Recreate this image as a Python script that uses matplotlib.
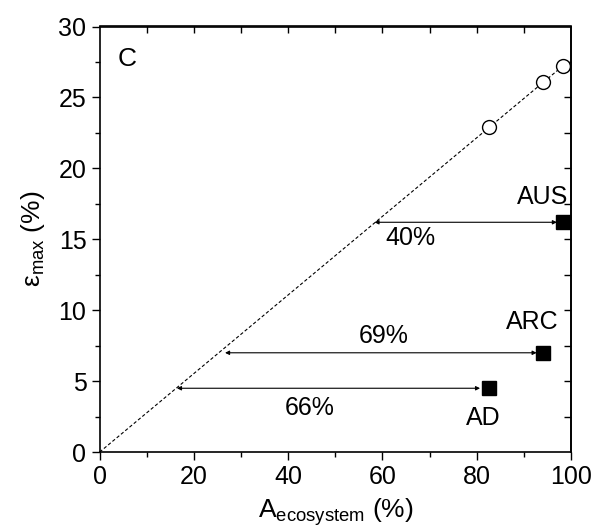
import matplotlib
matplotlib.use("Agg")
import matplotlib.pyplot as plt
import numpy as np

plt.rcParams["font.family"] = ["Liberation Sans", "DejaVu Sans"]
plt.rcParams["mathtext.fontset"] = "custom"
plt.rcParams["mathtext.rm"] = "Liberation Sans"
plt.rcParams["mathtext.it"] = "Liberation Sans:italic"

# potential (open circles) and measured (filled squares) values
sites = ["AD", "ARC", "AUS"]
a_eco = [82.5, 94.0, 98.2]
eps_potential = [22.9, 26.1, 27.2]
eps_measured = [4.5, 7.0, 16.2]
gap_start = [16.4, 26.6, 58.3]
gap_end = [80.7, 92.7, 97.0]
gap_labels = ["66%", "69%", "40%"]
gap_label_pos = [(44.5, 3.1), (60.3, 8.2), (66.0, 15.1)]
site_label_pos = [(81.3, 2.4), (91.7, 9.2), (94.0, 18.0)]
line_slope = 0.277

fig = plt.figure(figsize=(5.93, 5.30), dpi=100)
ax = fig.add_axes([0.168, 0.147, 0.795, 0.803])

xl = np.array([0, 98.2])
ax.plot(xl, line_slope * xl, color="black", lw=0.8, dashes=(3, 2))
ax.plot(a_eco, eps_potential, "o", ms=10, mfc="white", mec="black", mew=1)
ax.plot(a_eco, eps_measured, "s", ms=9.5, color="black")

for i in range(len(sites)):
    ax.annotate("", xy=(gap_end[i], eps_measured[i]),
                xytext=(gap_start[i], eps_measured[i]),
                arrowprops=dict(arrowstyle="<|-|>", color="black", lw=0.8,
                                mutation_scale=6, shrinkA=0, shrinkB=0))
    ax.text(*gap_label_pos[i], gap_labels[i], fontsize=18, ha="center", va="center")
    ax.text(*site_label_pos[i], sites[i], fontsize=18, ha="center", va="center")

ax.text(5.8, 27.7, "C", fontsize=19, ha="center", va="center")

ax.set_xlim(0, 100)
ax.set_ylim(0, 30)
ax.set_xticks(np.arange(0, 101, 20))
ax.set_xticks(np.arange(10, 100, 20), minor=True)
ax.set_yticks(np.arange(0, 31, 5))
ax.set_yticks(np.arange(2.5, 30, 5), minor=True)
ax.tick_params(which="both", direction="out", labelsize=18, width=1)
ax.tick_params(which="major", length=6)
ax.tick_params(which="minor", length=3.5)

top = ax.secondary_xaxis("top")
top.set_xticks(np.arange(10, 100, 10))
top.tick_params(direction="in", length=5, labeltop=False, width=1)
right = ax.secondary_yaxis("right")
right.set_yticks(np.arange(2.5, 30, 2.5))
right.tick_params(direction="in", length=5, labelright=False, width=1)

for sp in list(ax.spines.values()) + [top.spines["top"], right.spines["right"]]:
    sp.set_linewidth(1.2)

ax.set_xlabel("A$_{\\mathrm{ecosystem}}$ (%)", fontsize=19, labelpad=5)
ax.set_ylabel("ε$_{\\mathrm{max}}$ (%)", fontsize=19, labelpad=8)

fig.savefig("out.png", dpi=100)
